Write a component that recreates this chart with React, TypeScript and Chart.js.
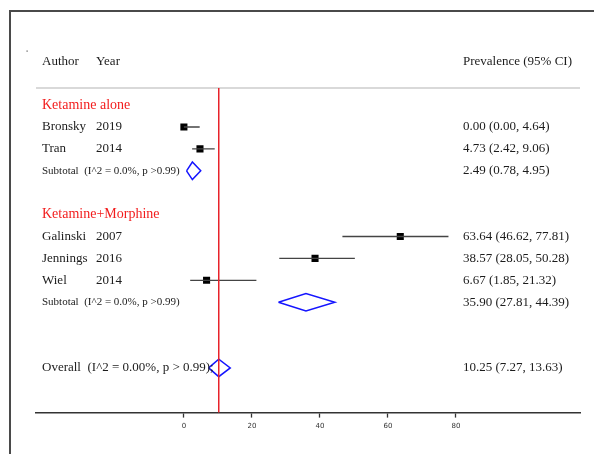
import React, { useEffect, useRef } from "react";
import { Chart, registerables } from "chart.js";

Chart.register(...registerables);

// ---- data ----
const GROUP_NAMES = ["Ketamine alone", "Ketamine+Morphine"];
const GROUP_ROWS = [1, 6];

const STUDY_NAMES = ["Bronsky", "Tran", "Galinski", "Jennings", "Wiel"];
const STUDY_YEARS = ["2019", "2014", "2007", "2016", "2014"];
const STUDY_ROWS = [2, 3, 7, 8, 9];
const STUDY_EST = [0.0, 4.73, 63.64, 38.57, 6.67];
const STUDY_LO = [0.0, 2.42, 46.62, 28.05, 1.85];
const STUDY_HI = [4.64, 9.06, 77.81, 50.28, 21.32];

const SUBTOTAL_LABELS = ["Subtotal  (I^2 = 0.0%, p >0.99)", "Subtotal  (I^2 = 0.0%, p >0.99)"];
const SUBTOTAL_ROWS = [4, 10];
const SUBTOTAL_EST = [2.49, 35.9];
const SUBTOTAL_LO = [0.78, 27.81];
const SUBTOTAL_HI = [4.95, 44.39];

const OVERALL_LABEL = "Overall  (I^2 = 0.00%, p > 0.99);";
const OVERALL_ROW = 13;
const OVERALL_EST = 10.25;
const OVERALL_LO = 7.27;
const OVERALL_HI = 13.63;

const X_TICKS = [0, 20, 40, 60, 80];
const HEADER_LEFT = ["Author", "Year"];
const HEADER_RIGHT = "Prevalence (95% CI)";
const HEADER_ROW = -1;

// ---- styles ----
const SERIF = '"Liberation Serif", "Times New Roman", serif';
const TEXT = "#1c1c1c";
const RED = "#f21c1c";
const BLUE = "#1515ff";
const CI_COLOR = "#444444";
const DIAMOND_HALF = 0.4;

const fmt = (e: number, l: number, h: number) =>
  `${e.toFixed(2)} (${l.toFixed(2)}, ${h.toFixed(2)})`;

const diamond = (e: number, l: number, h: number, r: number) => [
  { x: l, y: r },
  { x: e, y: r - DIAMOND_HALF },
  { x: h, y: r },
  { x: e, y: r + DIAMOND_HALF },
  { x: l, y: r },
];

export default function App() {
  const ref = useRef<HTMLCanvasElement | null>(null);

  useEffect(() => {
    if (!ref.current) return;
    const datasets: any[] = [];

    // red vertical reference line at overall estimate
    datasets.push({
      data: [
        { x: OVERALL_EST, y: 0.22 },
        { x: OVERALL_EST, y: 15.04 },
      ],
      showLine: true,
      borderColor: "#e8222a",
      borderWidth: 1.5,
      pointRadius: 0,
      clip: false,
    });

    // CI lines
    STUDY_ROWS.forEach((r, i) => {
      datasets.push({
        data: [
          { x: STUDY_LO[i], y: r },
          { x: STUDY_HI[i], y: r },
        ],
        showLine: true,
        borderColor: CI_COLOR,
        borderWidth: 1.3,
        pointRadius: 0,
      });
    });

    // squares
    datasets.push({
      data: STUDY_ROWS.map((r, i) => ({ x: STUDY_EST[i], y: r })),
      showLine: false,
      pointStyle: "rect",
      pointRadius: 5,
      backgroundColor: "#000000",
      borderColor: "#000000",
      borderWidth: 0,
    });

    // subtotal diamonds
    SUBTOTAL_ROWS.forEach((r, i) => {
      datasets.push({
        data: diamond(SUBTOTAL_EST[i], SUBTOTAL_LO[i], SUBTOTAL_HI[i], r),
        showLine: true,
        borderColor: BLUE,
        borderWidth: 1.5,
        pointRadius: 0,
        tension: 0,
      });
    });

    // overall diamond
    datasets.push({
      data: diamond(OVERALL_EST, OVERALL_LO, OVERALL_HI, OVERALL_ROW),
      showLine: true,
      borderColor: BLUE,
      borderWidth: 1.5,
      pointRadius: 0,
      tension: 0,
    });

    const textPlugin = {
      id: "forestText",
      beforeDraw(chart: any) {
        const { ctx, chartArea } = chart;
        ctx.save();
        // frame lines
        ctx.strokeStyle = "#4a4a4a";
        ctx.lineWidth = 2;
        ctx.beginPath();
        ctx.moveTo(10, 454);
        ctx.lineTo(10, 11);
        ctx.lineTo(594, 11);
        ctx.stroke();
        // header separator
        ctx.strokeStyle = "#d9d9d9";
        ctx.lineWidth = 2;
        ctx.beginPath();
        ctx.moveTo(chartArea.left, chartArea.top);
        ctx.lineTo(chartArea.right, chartArea.top);
        ctx.stroke();
        // tiny dot
        ctx.fillStyle = "#555";
        ctx.fillRect(26.5, 50.5, 1.2, 1.2);
        ctx.restore();
      },
      afterDatasetsDraw(chart: any) {
        const { ctx, chartArea, scales } = chart;
        const y = scales.y;
        const xName = chartArea.left + 6;
        const xYear = chartArea.left + 60;
        const xRight = chartArea.left + 427;
        ctx.save();
        ctx.textBaseline = "middle";
        ctx.textAlign = "left";

        // header
        ctx.fillStyle = TEXT;
        ctx.font = `13px ${SERIF}`;
        const hy = y.getPixelForValue(HEADER_ROW);
        ctx.fillText(HEADER_LEFT[0], xName, hy);
        ctx.fillText(HEADER_LEFT[1], xYear, hy);
        ctx.fillText(HEADER_RIGHT, xRight, hy);

        // group titles
        ctx.fillStyle = RED;
        ctx.font = `14px ${SERIF}`;
        GROUP_NAMES.forEach((g, i) => {
          ctx.fillText(g, xName, y.getPixelForValue(GROUP_ROWS[i]));
        });

        // studies
        ctx.fillStyle = TEXT;
        ctx.font = `13px ${SERIF}`;
        STUDY_ROWS.forEach((r, i) => {
          const py = y.getPixelForValue(r);
          ctx.fillText(STUDY_NAMES[i], xName, py);
          ctx.fillText(STUDY_YEARS[i], xYear, py);
          ctx.fillText(fmt(STUDY_EST[i], STUDY_LO[i], STUDY_HI[i]), xRight, py);
        });

        // subtotals
        SUBTOTAL_ROWS.forEach((r, i) => {
          const py = y.getPixelForValue(r);
          ctx.font = `11px ${SERIF}`;
          ctx.fillText(SUBTOTAL_LABELS[i], xName, py);
          ctx.font = `13px ${SERIF}`;
          ctx.fillText(fmt(SUBTOTAL_EST[i], SUBTOTAL_LO[i], SUBTOTAL_HI[i]), xRight, py);
        });

        // overall
        const oy = y.getPixelForValue(OVERALL_ROW);
        ctx.font = `13px ${SERIF}`;
        ctx.fillText(OVERALL_LABEL, xName, oy);
        ctx.fillText(fmt(OVERALL_EST, OVERALL_LO, OVERALL_HI), xRight, oy);
        ctx.restore();
      },
    };

    const chart = new Chart(ref.current, {
      type: "scatter",
      data: { datasets },
      options: {
        animation: false,
        responsive: false,
        plugins: {
          legend: { display: false },
          tooltip: { enabled: false },
        },
        layout: { padding: { left: 36, right: 14, top: 88, bottom: 20 } },
        scales: {
          x: {
            type: "linear",
            min: -43.5,
            max: 116.5,
            afterBuildTicks: (axis: any) => {
              axis.ticks = X_TICKS.map((v) => ({ value: v }));
            },
            ticks: {
              font: { family: '"DejaVu Sans", sans-serif', size: 7 },
              color: "#333",
              padding: 4,
              maxRotation: 0,
              autoSkip: false,
            },
            grid: {
              drawOnChartArea: false,
              drawTicks: true,
              tickLength: 5,
              tickColor: "#333",
              tickWidth: 1.3,
            },
            border: { display: true, color: "#333", width: 1.5 },
          },
          y: {
            type: "linear",
            reverse: true,
            min: 0.22,
            max: 15.04,
            display: false,
          },
        },
      },
      plugins: [textPlugin],
    });
    return () => chart.destroy();
  }, []);

  return (
    <div style={{ position: "fixed", left: 0, top: 0, width: 594, height: 454, background: "#fff" }}>
      <canvas ref={ref} width={594} height={454} />
    </div>
  );
}
